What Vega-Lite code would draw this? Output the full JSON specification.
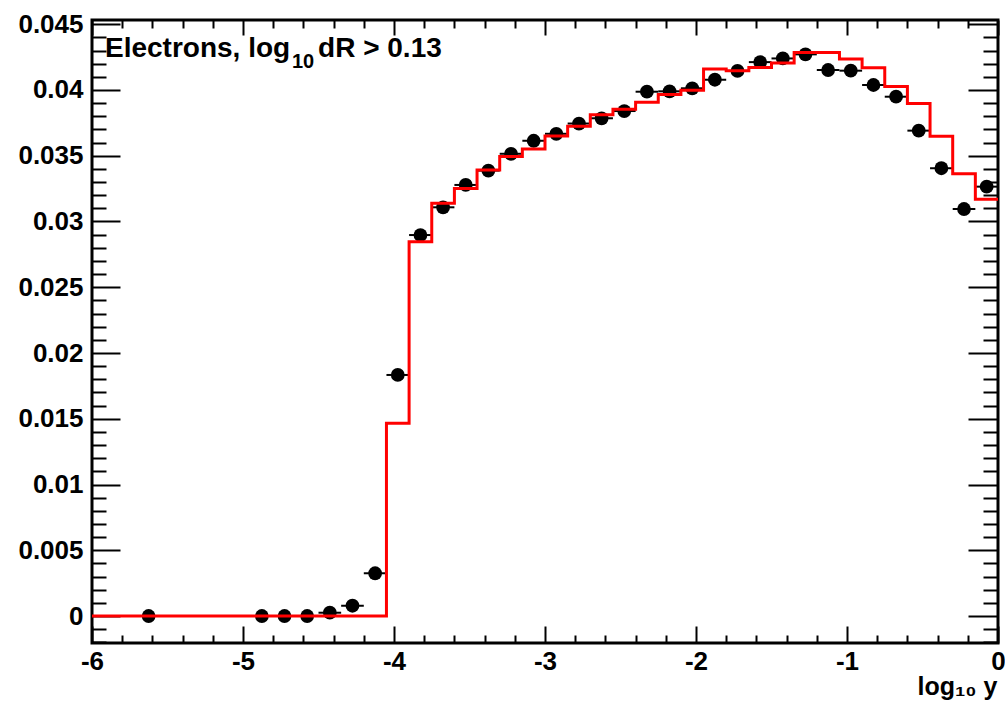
{
  "$schema": "https://vega.github.io/schema/vega-lite/v6.json",
  "width": 906,
  "height": 623,
  "autosize": "none",
  "padding": {"left": 92, "top": 20, "right": 7, "bottom": 63},
  "background": "white",
  "config": {
    "view": {"stroke": "black", "strokeWidth": 3},
    "font": "Liberation Sans",
    "axis": {"domain": false, "grid": false, "tickColor": "black", "tickWidth": 2, "labelFont": "Liberation Sans", "labelFontWeight": "bold", "labelColor": "black", "labelFontSize": 26, "labelFlush": false, "labelOverlap": false, "labelBound": false, "titleFont": "Liberation Sans", "titleFontWeight": "bold", "titleColor": "black"}
  },
  "datasets": {
    "mc": [
      {"edge": -6.0, "mc": 0}, {"edge": -5.85, "mc": 0}, {"edge": -5.7, "mc": 0}, {"edge": -5.55, "mc": 0},
      {"edge": -5.4, "mc": 0}, {"edge": -5.25, "mc": 0}, {"edge": -5.1, "mc": 0}, {"edge": -4.95, "mc": 0},
      {"edge": -4.8, "mc": 0}, {"edge": -4.65, "mc": 0}, {"edge": -4.5, "mc": 0}, {"edge": -4.35, "mc": 0},
      {"edge": -4.2, "mc": 0}, {"edge": -4.05, "mc": 0.01465}, {"edge": -3.9, "mc": 0.02846}, {"edge": -3.75, "mc": 0.03138},
      {"edge": -3.6, "mc": 0.0325}, {"edge": -3.45, "mc": 0.03392}, {"edge": -3.3, "mc": 0.03495}, {"edge": -3.15, "mc": 0.03551},
      {"edge": -3.0, "mc": 0.0365}, {"edge": -2.85, "mc": 0.03724}, {"edge": -2.7, "mc": 0.03812}, {"edge": -2.55, "mc": 0.03853},
      {"edge": -2.4, "mc": 0.03906}, {"edge": -2.25, "mc": 0.03965}, {"edge": -2.1, "mc": 0.03998}, {"edge": -1.95, "mc": 0.0416},
      {"edge": -1.8, "mc": 0.04146}, {"edge": -1.65, "mc": 0.04171}, {"edge": -1.5, "mc": 0.04205}, {"edge": -1.35, "mc": 0.04285},
      {"edge": -1.2, "mc": 0.04285}, {"edge": -1.05, "mc": 0.04235}, {"edge": -0.9, "mc": 0.0417}, {"edge": -0.75, "mc": 0.04027},
      {"edge": -0.6, "mc": 0.03897}, {"edge": -0.45, "mc": 0.03648}, {"edge": -0.3, "mc": 0.03364}, {"edge": -0.15, "mc": 0.0317},
      {"edge": 0.0, "mc": 0.0317}
    ],
    "pts": [
      {"lo": -5.7, "hi": -5.55, "x": -5.625, "y": 0.0},
      {"lo": -4.95, "hi": -4.8, "x": -4.875, "y": 0.0},
      {"lo": -4.8, "hi": -4.65, "x": -4.725, "y": 0.0},
      {"lo": -4.65, "hi": -4.5, "x": -4.575, "y": 0.0},
      {"lo": -4.5, "hi": -4.35, "x": -4.425, "y": 0.00025},
      {"lo": -4.35, "hi": -4.2, "x": -4.275, "y": 0.00078},
      {"lo": -4.2, "hi": -4.05, "x": -4.125, "y": 0.00325},
      {"lo": -4.05, "hi": -3.9, "x": -3.975, "y": 0.01833},
      {"lo": -3.9, "hi": -3.75, "x": -3.825, "y": 0.02897},
      {"lo": -3.75, "hi": -3.6, "x": -3.675, "y": 0.03108},
      {"lo": -3.6, "hi": -3.45, "x": -3.525, "y": 0.03278},
      {"lo": -3.45, "hi": -3.3, "x": -3.375, "y": 0.03387},
      {"lo": -3.3, "hi": -3.15, "x": -3.225, "y": 0.03515},
      {"lo": -3.15, "hi": -3.0, "x": -3.075, "y": 0.03614},
      {"lo": -3.0, "hi": -2.85, "x": -2.925, "y": 0.03667},
      {"lo": -2.85, "hi": -2.7, "x": -2.775, "y": 0.03745},
      {"lo": -2.7, "hi": -2.55, "x": -2.625, "y": 0.03785},
      {"lo": -2.55, "hi": -2.4, "x": -2.475, "y": 0.0384},
      {"lo": -2.4, "hi": -2.25, "x": -2.325, "y": 0.03987},
      {"lo": -2.25, "hi": -2.1, "x": -2.175, "y": 0.0399},
      {"lo": -2.1, "hi": -1.95, "x": -2.025, "y": 0.04013},
      {"lo": -1.95, "hi": -1.8, "x": -1.875, "y": 0.04078},
      {"lo": -1.8, "hi": -1.65, "x": -1.725, "y": 0.04145},
      {"lo": -1.65, "hi": -1.5, "x": -1.575, "y": 0.04212},
      {"lo": -1.5, "hi": -1.35, "x": -1.425, "y": 0.0424},
      {"lo": -1.35, "hi": -1.2, "x": -1.275, "y": 0.04271},
      {"lo": -1.2, "hi": -1.05, "x": -1.125, "y": 0.04152},
      {"lo": -1.05, "hi": -0.9, "x": -0.975, "y": 0.04147},
      {"lo": -0.9, "hi": -0.75, "x": -0.825, "y": 0.04038},
      {"lo": -0.75, "hi": -0.6, "x": -0.675, "y": 0.03949},
      {"lo": -0.6, "hi": -0.45, "x": -0.525, "y": 0.03691},
      {"lo": -0.45, "hi": -0.3, "x": -0.375, "y": 0.03405},
      {"lo": -0.3, "hi": -0.15, "x": -0.225, "y": 0.03095},
      {"lo": -0.15, "hi": 0.0, "x": -0.075, "y": 0.03265}
    ],
    "label": [
      {"text": "Electrons, log", "x": -5.914, "y": 0.04253},
      {"text": "dR > 0.13", "x": -4.503, "y": 0.04253}
    ],
    "labelsub": [
      {"text": "10", "x": -4.676, "y": 0.04167}
    ]
  },
  "layer": [
    {
      "data": {"name": "pts"},
      "mark": {"type": "rule", "color": "black", "strokeWidth": 2},
      "encoding": {
        "x": {"field": "lo", "type": "quantitative", "scale": {"domain": [-6, 0], "nice": false, "zero": false},
          "axis": {"orient": "top", "title": null, "labels": false,
            "values": [-6,-5.8,-5.6,-5.4,-5.2,-5,-4.8,-4.6,-4.4,-4.2,-4,-3.8,-3.6,-3.4,-3.2,-3,-2.8,-2.6,-2.4,-2.2,-2,-1.8,-1.6,-1.4,-1.2,-1,-0.8,-0.6,-0.4,-0.2,0],
            "tickSize": {"condition": {"test": "abs(datum.value - round(datum.value)) < 1e-6", "value": -15}, "value": -8}}},
        "x2": {"field": "hi"},
        "y": {"field": "y", "type": "quantitative", "scale": {"domain": [-0.002053, 0.045323], "nice": false, "zero": false},
          "axis": {"orient": "right", "title": null, "labels": false,
            "values": [-0.002,-0.001,0,0.001,0.002,0.003,0.004,0.005,0.006,0.007,0.008,0.009,0.01,0.011,0.012,0.013,0.014,0.015,0.016,0.017,0.018,0.019,0.02,0.021,0.022,0.023,0.024,0.025,0.026,0.027,0.028,0.029,0.03,0.031,0.032,0.033,0.034,0.035,0.036,0.037,0.038,0.039,0.04,0.041,0.042,0.043,0.044,0.045],
            "tickSize": {"condition": {"test": "abs(datum.value*200 - round(datum.value*200)) < 1e-6", "value": -30}, "value": -15}}}
      }
    },
    {
      "data": {"name": "pts"},
      "mark": {"type": "point", "filled": true, "shape": "circle", "color": "black", "opacity": 1, "size": 190},
      "encoding": {
        "x": {"field": "x", "type": "quantitative", "scale": {"domain": [-6, 0], "nice": false, "zero": false}, "axis": null},
        "y": {"field": "y", "type": "quantitative", "scale": {"domain": [-0.002053, 0.045323], "nice": false, "zero": false}, "axis": null}
      }
    },
    {
      "data": {"name": "mc"},
      "mark": {"type": "line", "interpolate": "step-after", "color": "#ff0000", "strokeWidth": 3},
      "encoding": {
        "x": {"field": "edge", "type": "quantitative", "scale": {"domain": [-6, 0], "nice": false, "zero": false},
          "axis": {"orient": "bottom", "title": "log₁₀ y", "titleFontSize": 25, "titleAnchor": "end", "titleAlign": "right", "titleBaseline": "alphabetic", "titleX": 905, "titleY": 51,
            "values": [-6,-5.8,-5.6,-5.4,-5.2,-5,-4.8,-4.6,-4.4,-4.2,-4,-3.8,-3.6,-3.4,-3.2,-3,-2.8,-2.6,-2.4,-2.2,-2,-1.8,-1.6,-1.4,-1.2,-1,-0.8,-0.6,-0.4,-0.2,0],
            "labelExpr": "abs(datum.value - round(datum.value)) < 1e-6 ? (datum.value < -0.5 ? '-' + abs(round(datum.value)) : '0') : ''",
            "labelPadding": 22,
            "tickSize": {"condition": {"test": "abs(datum.value - round(datum.value)) < 1e-6", "value": -17}, "value": -8}}},
        "y": {"field": "mc", "type": "quantitative", "scale": {"domain": [-0.002053, 0.045323], "nice": false, "zero": false},
          "axis": {"orient": "left", "title": null,
            "values": [-0.002,-0.001,0,0.001,0.002,0.003,0.004,0.005,0.006,0.007,0.008,0.009,0.01,0.011,0.012,0.013,0.014,0.015,0.016,0.017,0.018,0.019,0.02,0.021,0.022,0.023,0.024,0.025,0.026,0.027,0.028,0.029,0.03,0.031,0.032,0.033,0.034,0.035,0.036,0.037,0.038,0.039,0.04,0.041,0.042,0.043,0.044,0.045],
            "labelExpr": "abs(datum.value*200 - round(datum.value*200)) < 1e-6 ? format(datum.value, '~g') : ''",
            "labelPadding": 37,
            "tickSize": {"condition": {"test": "abs(datum.value*200 - round(datum.value*200)) < 1e-6", "value": -28}, "value": -14}}}
      }
    },
    {
      "data": {"name": "label"},
      "mark": {"type": "text", "align": "left", "baseline": "alphabetic", "font": "Liberation Sans", "fontWeight": "bold", "fontSize": 28, "color": "black"},
      "encoding": {
        "x": {"field": "x", "type": "quantitative", "scale": {"domain": [-6, 0], "nice": false, "zero": false}, "axis": null},
        "y": {"field": "y", "type": "quantitative", "scale": {"domain": [-0.002053, 0.045323], "nice": false, "zero": false}, "axis": null},
        "text": {"field": "text", "type": "nominal"}
      }
    },
    {
      "data": {"name": "labelsub"},
      "mark": {"type": "text", "align": "left", "baseline": "alphabetic", "font": "Liberation Sans", "fontWeight": "bold", "fontSize": 20, "color": "black"},
      "encoding": {
        "x": {"field": "x", "type": "quantitative", "scale": {"domain": [-6, 0], "nice": false, "zero": false}, "axis": null},
        "y": {"field": "y", "type": "quantitative", "scale": {"domain": [-0.002053, 0.045323], "nice": false, "zero": false}, "axis": null},
        "text": {"field": "text", "type": "nominal"}
      }
    }
  ],
  "resolve": {"axis": {"x": "independent", "y": "independent"}}
}
